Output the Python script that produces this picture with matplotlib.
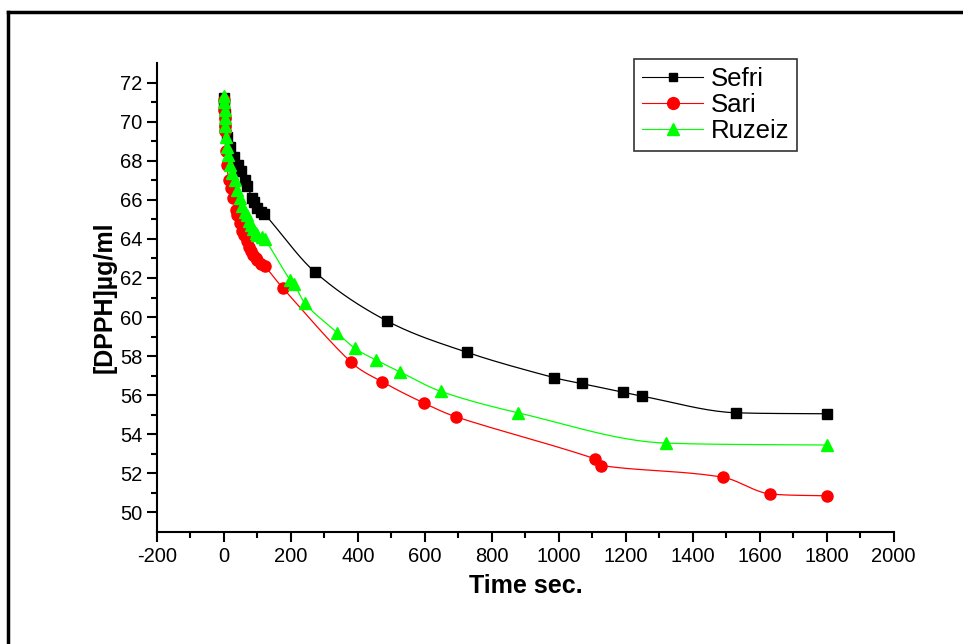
import numpy as np
import matplotlib.pyplot as plt
from matplotlib.lines import Line2D

plt.rcParams['font.family'] = ['Liberation Sans', 'DejaVu Sans']
plt.rcParams['axes.unicode_minus'] = False

# values
sefri_t = [0, 1, 2, 3, 4, 10, 18, 30, 42, 50, 63, 70, 84, 90, 99, 110, 120,
           272, 487, 725, 985, 1068, 1192, 1248, 1530, 1800]
sefri_y = [71.2, 70.8, 70.4, 70.0, 69.7, 69.2, 68.7, 68.2, 67.8, 67.5, 67.0, 66.7, 66.1, 65.9, 65.6, 65.4, 65.3,
           62.3, 59.8, 58.2, 56.9, 56.6, 56.15, 55.95, 55.1, 55.05]

sari_t = [0, 1, 2, 3, 4, 5, 8, 15, 20, 27, 35, 40, 48, 55, 60, 68, 75, 80, 87, 95, 100, 110, 122,
          175, 379, 471, 597, 692, 1107, 1127, 1490, 1630, 1800]
sari_y = [71.1, 70.6, 70.2, 69.8, 69.5, 68.5, 67.8, 67.0, 66.6, 66.1, 65.5, 65.2, 64.8, 64.4, 64.2, 63.9, 63.6,
          63.4, 63.2, 63.0, 62.9, 62.7, 62.6,
          61.5, 57.7, 56.7, 55.6, 54.9, 52.75, 52.4, 51.8, 50.95, 50.85]

ruzeiz_t = [0, 1, 2, 3, 4, 5, 8, 12, 18, 25, 33, 40, 48, 55, 62, 68, 75, 80, 87, 95, 100, 113, 122,
            197, 209, 242, 338, 391, 454, 525, 647, 878, 1319, 1800]
ruzeiz_y = [71.3, 71.0, 70.6, 70.2, 69.8, 69.2, 68.7, 68.3, 67.8, 67.4, 67.0, 66.5, 66.1, 65.7, 65.4, 65.2, 64.9,
            64.7, 64.5, 64.3, 64.2, 64.1, 64.0,
            61.9, 61.7, 60.7, 59.2, 58.4, 57.8, 57.2, 56.2, 55.1, 53.55, 53.45]

names = ['Sefri', 'Sari', 'Ruzeiz']
colors = ['black', 'red', '#00ff00']
markers = ['s', 'o', '^']
msizes = [7, 8, 9]
leg_msizes = [6, 8.5, 9]


def smooth(x, y, n=20):
    # catmull-rom style hermite curve, slopes clipped so it stays monotone
    x = np.asarray(x, float)
    y = np.asarray(y, float)
    h = np.diff(x)
    d = np.diff(y) / h
    m = np.zeros_like(y)
    m[0], m[-1] = d[0], d[-1]
    for k in range(1, len(x) - 1):
        if d[k - 1] * d[k] <= 0:
            m[k] = 0
            continue
        m[k] = (y[k + 1] - y[k - 1]) / (x[k + 1] - x[k - 1])
        lim = 3 * min(abs(d[k - 1]), abs(d[k]))
        m[k] = np.sign(m[k]) * min(abs(m[k]), lim)
    xs, ys = [], []
    for k in range(len(x) - 1):
        t = np.linspace(0, 1, n, endpoint=False)
        h00 = 2 * t**3 - 3 * t**2 + 1
        h10 = t**3 - 2 * t**2 + t
        h01 = -2 * t**3 + 3 * t**2
        h11 = t**3 - t**2
        xs.append(x[k] + t * h[k])
        ys.append(h00 * y[k] + h10 * h[k] * m[k] + h01 * y[k + 1] + h11 * h[k] * m[k + 1])
    xs.append([x[-1]])
    ys.append([y[-1]])
    return np.concatenate(xs), np.concatenate(ys)


fig = plt.figure(figsize=(9.63, 6.44), dpi=100)
ax = fig.add_axes([0.163, 0.174, 0.765, 0.728])

data = [(sefri_t, sefri_y), (sari_t, sari_y), (ruzeiz_t, ruzeiz_y)]
handles = []
for (t, y), name, c, mk, ms, lms in zip(data, names, colors, markers, msizes, leg_msizes):
    xs, ys = smooth(t, y)
    ax.plot(xs, ys, color=c, lw=0.9)
    ax.plot(t, y, linestyle='none', marker=mk, color=c, ms=ms, mec=c)
    handles.append(Line2D([], [], color=c, lw=0.8, marker=mk, ms=lms, mec=c, label=name))

ax.set_xlim(-200, 2000)
ax.set_ylim(49, 73)
ax.set_xticks(np.arange(-200, 2001, 200))
ax.set_xticks(np.arange(-100, 2000, 200), minor=True)
ax.set_yticks(np.arange(50, 73, 2))
ax.set_yticks(np.arange(51, 73, 2), minor=True)
ax.spines['top'].set_visible(False)
ax.spines['right'].set_visible(False)
ax.spines['left'].set_linewidth(1.5)
ax.spines['bottom'].set_linewidth(1.5)
ax.tick_params(which='major', direction='out', length=7, width=1.5, labelsize=14.5)
ax.tick_params(which='minor', direction='out', length=4, width=1.5)

ax.set_xlabel('Time sec.', fontsize=18, fontweight='bold', labelpad=6)
ax.set_ylabel('[DPPH]µg/ml', fontsize=18, fontweight='bold', labelpad=2)

leg = ax.legend(handles=handles, loc='upper right', bbox_to_anchor=(0.828, 0.908),
                bbox_transform=fig.transFigure, fontsize=18.5, frameon=True, fancybox=False,
                handlelength=2.4, borderaxespad=0, handletextpad=0.3, labelspacing=0.08,
                borderpad=0.3)
leg.get_frame().set_edgecolor('black')
leg.get_frame().set_linewidth(1.2)

# page frame around the chart
fig.add_artist(Line2D([0.008, 1.0], [0.981, 0.981], color='black', lw=2.5, transform=fig.transFigure))
fig.add_artist(Line2D([0.008, 0.008], [0.0, 0.981], color='black', lw=2.5, transform=fig.transFigure))

fig.savefig('out.png', dpi=100)
